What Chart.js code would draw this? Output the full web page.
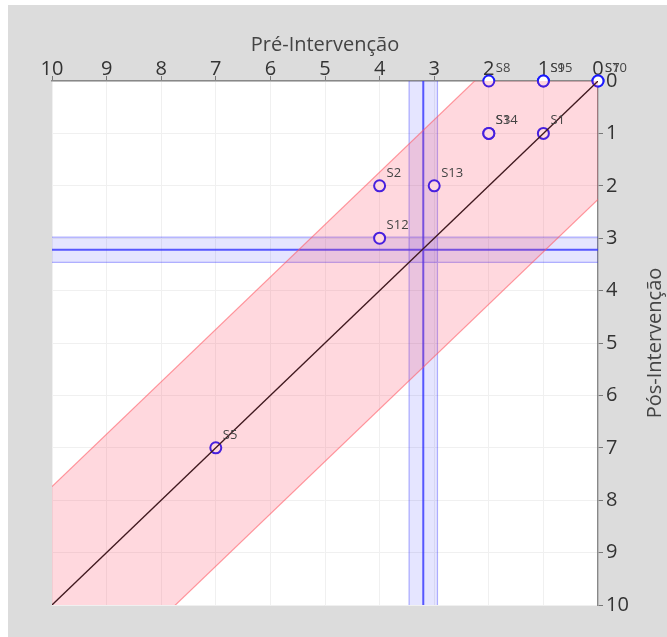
<!DOCTYPE html>
<html>
<head>
<meta charset="utf-8">
<script src="https://cdn.jsdelivr.net/npm/chart.js@4/dist/chart.umd.min.js"></script>
<style>
  html, body { margin: 0; background: #fff; }
  #painel { position: absolute; left: 8px; top: 5px; width: 659px; height: 632px; background: #dcdcdc; }
</style>
</head>
<body>
<div id="painel"><canvas id="grafico" width="659" height="632"></canvas></div>
<script>
// Sujeitos (pré x pós)
const sujeitos = ['S1', 'S2', 'S3', 'S5', 'S7', 'S8', 'S9', 'S10', 'S12', 'S13', 'S14', 'S15'];
const preIntervencao = [1, 4, 2, 7, 0, 2, 1, 0, 4, 3, 2, 1];
const posIntervencao = [1, 2, 1, 7, 0, 0, 0, 0, 3, 2, 1, 0];

// Faixa de concordância em torno da diagonal
const limiteFaixa = 2.26;
// Médias e faixas (azul)
const mediaPre = 3.2;
const faixaPre = [2.94, 3.46];
const mediaPos = 3.22;
const faixaPos = [2.98, 3.46];

const escala = [0, 10];

const pontos = sujeitos.map((s, i) => ({ x: preIntervencao[i], y: posIntervencao[i] }));

// fundo branco da área do gráfico
const fundoArea = {
    id: 'fundoArea',
    beforeDraw(chart) {
        const { ctx, chartArea: a } = chart;
        ctx.save();
        ctx.fillStyle = '#ffffff';
        ctx.fillRect(a.left, a.top, a.right - a.left, a.bottom - a.top);
        ctx.restore();
    }
};

// faixas azuis das médias
const faixasMedia = {
    id: 'faixasMedia',
    beforeDatasetsDraw(chart) {
        const { ctx, chartArea: a, scales } = chart;
        const x = scales.x, y = scales.y;
        ctx.save();
        ctx.beginPath();
        ctx.rect(a.left, a.top, a.right - a.left, a.bottom - a.top);
        ctx.clip();

        const x1 = x.getPixelForValue(faixaPre[1]);
        const x2 = x.getPixelForValue(faixaPre[0]);
        const y1 = y.getPixelForValue(faixaPos[0]);
        const y2 = y.getPixelForValue(faixaPos[1]);

        ctx.fillStyle = 'rgba(40, 40, 255, 0.12)';
        ctx.fillRect(x1, a.top, x2 - x1, a.bottom - a.top);
        ctx.fillRect(a.left, y1, a.right - a.left, y2 - y1);

        ctx.strokeStyle = 'rgba(40, 40, 255, 0.35)';
        ctx.lineWidth = 1.2;
        ctx.beginPath();
        [x1, x2].forEach(px => { ctx.moveTo(px, a.top); ctx.lineTo(px, a.bottom); });
        [y1, y2].forEach(py => { ctx.moveTo(a.left, py); ctx.lineTo(a.right, py); });
        ctx.stroke();

        ctx.strokeStyle = 'rgba(50, 50, 255, 0.8)';
        ctx.lineWidth = 2;
        ctx.beginPath();
        const mx = x.getPixelForValue(mediaPre);
        const my = y.getPixelForValue(mediaPos);
        ctx.moveTo(mx, a.top); ctx.lineTo(mx, a.bottom);
        ctx.moveTo(a.left, my); ctx.lineTo(a.right, my);
        ctx.stroke();
        ctx.restore();
    }
};

// rótulos dos sujeitos e título do eixo y
const rotulos = {
    id: 'rotulos',
    afterDatasetsDraw(chart) {
        const { ctx } = chart;
        const meta = chart.getDatasetMeta(3);
        ctx.save();
        ctx.font = '13px "Open Sans", sans-serif';
        ctx.fillStyle = '#444';
        ctx.textAlign = 'left';
        ctx.textBaseline = 'middle';
        meta.data.forEach((p, i) => {
            ctx.fillText(sujeitos[i], p.x + 7, p.y - 13);
        });
        ctx.restore();
    },
    afterDraw(chart) {
        const { ctx, chartArea: a } = chart;
        ctx.save();
        ctx.translate(647, (a.top + a.bottom) / 2);
        ctx.rotate(-Math.PI / 2);
        ctx.font = '20px "Open Sans", sans-serif';
        ctx.fillStyle = '#444';
        ctx.textAlign = 'center';
        ctx.textBaseline = 'middle';
        ctx.fillText('Pós-Intervenção', 0, 0);
        ctx.restore();
    }
};

const ctx = document.getElementById('grafico').getContext('2d');
new Chart(ctx, {
    type: 'scatter',
    data: {
        datasets: [
            {
                type: 'line',
                data: [{ x: escala[0], y: escala[0] - limiteFaixa }, { x: escala[1], y: escala[1] - limiteFaixa }],
                borderColor: 'rgba(255, 90, 100, 0.6)',
                borderWidth: 1.2,
                pointRadius: 0,
                fill: false,
            },
            {
                type: 'line',
                data: [{ x: escala[0], y: escala[0] + limiteFaixa }, { x: escala[1], y: escala[1] + limiteFaixa }],
                borderColor: 'rgba(255, 90, 100, 0.6)',
                backgroundColor: 'rgba(255, 60, 90, 0.2)',
                borderWidth: 1.2,
                pointRadius: 0,
                fill: '-1',
            },
            {
                type: 'line',
                data: [{ x: escala[0], y: escala[0] }, { x: escala[1], y: escala[1] }],
                borderColor: '#111',
                borderWidth: 1.3,
                pointRadius: 0,
                fill: false,
            },
            {
                data: pontos,
                pointRadius: 5.5,
                pointBorderWidth: 2,
                pointBackgroundColor: '#ffffff',
                pointBorderColor: 'rgb(25, 25, 255)',
                clip: false,
            },
        ]
    },
    options: {
        responsive: false,
        animation: false,
        layout: { padding: { left: 44, top: 20, right: 0, bottom: 32 } },
        plugins: {
            legend: { display: false },
            tooltip: { enabled: false },
        },
        scales: {
            x: {
                type: 'linear',
                position: 'top',
                reverse: true,
                min: escala[0],
                max: escala[1],
                afterFit: s => { s.height = 56; },
                title: {
                    display: true,
                    text: 'Pré-Intervenção',
                    color: '#444',
                    font: { family: '"Open Sans", sans-serif', size: 20 },
                    padding: { top: 8, bottom: 0 },
                },
                ticks: {
                    stepSize: 1,
                    color: '#333',
                    padding: -5,
                    maxRotation: 0,
                    font: { family: '"Open Sans", sans-serif', size: 20 },
                },
                grid: { color: '#f0f0f0', tickColor: '#777', tickLength: 5 },
                border: { color: '#888', width: 1.5 },
            },
            y: {
                type: 'linear',
                position: 'right',
                reverse: true,
                min: escala[0],
                max: escala[1],
                afterFit: s => { s.width = 69; },
                ticks: {
                    stepSize: 1,
                    color: '#333',
                    padding: 3,
                    font: { family: '"Open Sans", sans-serif', size: 20 },
                },
                grid: { color: '#f0f0f0', tickColor: '#777', tickLength: 5 },
                border: { color: '#888', width: 1.5 },
            }
        }
    },
    plugins: [fundoArea, faixasMedia, rotulos]
});
</script>
</body>
</html>
